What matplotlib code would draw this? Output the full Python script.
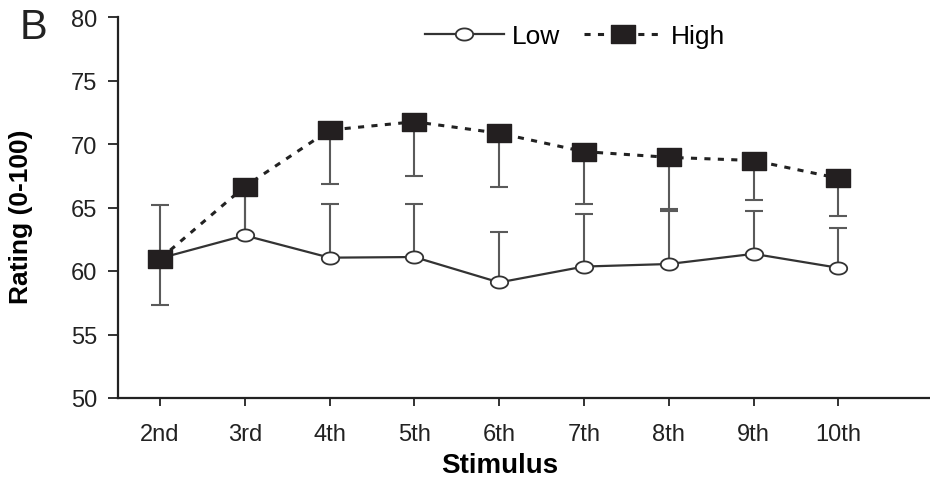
import matplotlib.pyplot as plt
import numpy as np
from matplotlib.path import Path

plt.rcParams['font.family'] = ['Liberation Sans', 'DejaVu Sans']

# Data
stimulus = ["2nd", "3rd", "4th", "5th", "6th", "7th", "8th", "9th", "10th"]
low_mean = [61.0, 62.8, 61.05, 61.1, 59.1, 60.35, 60.55, 61.35, 60.25]
low_err_up = [4.2, 3.6, 4.2, 4.2, 4.0, 4.15, 4.2, 3.35, 3.15]
high_mean = [60.95, 66.65, 71.1, 71.75, 70.85, 69.4, 68.95, 68.7, 67.3]
high_err_down = [3.65, 3.85, 4.25, 4.3, 4.25, 4.1, 4.1, 3.1, 2.95]

x = np.arange(len(stimulus))

# wide markers (the original figure is stretched horizontally)
t = np.linspace(0, 2 * np.pi, 60)
ellipse = Path(np.column_stack([np.cos(t), 0.7 * np.sin(t)]), closed=True)
rect = Path([(-1, -0.7), (1, -0.7), (1, 0.7), (-1, 0.7), (-1, -0.7)], closed=True)

fig = plt.figure(figsize=(9.3, 4.85), dpi=100)
ax = fig.add_axes([118 / 930, 1 - 399 / 485, 1 - 118 / 930, (399 - 18) / 485])

err_col = "#5a5a5a"
ax.errorbar(x, low_mean, yerr=[np.zeros(len(x)), low_err_up], fmt="none",
            ecolor=err_col, elinewidth=1.5, capsize=6.5, capthick=1.5, zorder=1)
ax.errorbar(x, high_mean, yerr=[high_err_down, np.zeros(len(x))], fmt="none",
            ecolor=err_col, elinewidth=1.5, capsize=6.5, capthick=1.5, zorder=1)

ax.plot(x, low_mean, color="#333333", lw=1.6, marker=ellipse, markersize=12.5,
        markerfacecolor="white", markeredgecolor="#333333", markeredgewidth=1.3,
        label="Low", zorder=3)
ax.plot(x, high_mean, color="#222222", lw=2.2, linestyle=(0, (2, 2.4)),
        marker=rect, markersize=17.5, markerfacecolor="#231f20",
        markeredgecolor="#231f20", label="High", zorder=4)

ax.set_xlim(-0.495, 9.08)
ax.set_ylim(50, 80)
ax.set_yticks(range(50, 81, 5))
ax.set_xticks(x)
ax.set_xticklabels(stimulus)

for s in ["top", "right"]:
    ax.spines[s].set_visible(False)
ax.spines["left"].set_linewidth(1.6)
ax.spines["bottom"].set_linewidth(1.6)
ax.spines["left"].set_color("#222222")
ax.spines["bottom"].set_color("#222222")

ax.tick_params(axis="y", direction="out", length=7, width=1.3, labelsize=17,
               pad=8, colors="#222222")
ax.tick_params(axis="x", direction="out", length=6, width=1.3, labelsize=17,
               pad=12, colors="#222222")

ax.set_ylabel("Rating (0-100)", fontsize=19, fontweight="bold")
ax.yaxis.set_label_coords(-0.105, 0.478)
ax.set_xlabel("Stimulus", fontsize=20, fontweight="bold")
ax.xaxis.set_label_coords(0.47, -0.142)

fig.text(20 / 930, 1 - 28 / 485, "B", fontsize=30, va="center", ha="left",
         color="#222222")

ax.legend(loc="center", bbox_to_anchor=(575 / 930, 1 - 37 / 485),
          bbox_transform=fig.transFigure, ncol=2, frameon=False, fontsize=19,
          handlelength=3.0, handletextpad=0.3, columnspacing=0.9)

fig.savefig("out.png", dpi=100)
